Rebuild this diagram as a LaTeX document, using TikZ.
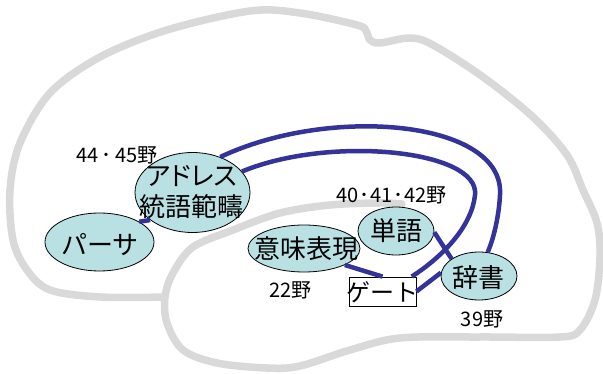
\documentclass[tikz,border=0pt]{standalone}
\usepackage{fontspec}
\setmainfont{Noto Sans CJK JP}
\newfontfamily\jpprop[RawFeature=+palt]{Noto Sans CJK JP}
\usetikzlibrary{shapes.geometric}
\definecolor{cortexgray}{RGB}{217,217,217}
\definecolor{tractblue}{RGB}{51,51,153}
\definecolor{areafill}{RGB}{185,225,228}

\begin{document}
\begin{tikzpicture}[x=1pt,y=-1pt,
  region/.style={ellipse, draw=black, line width=0.8pt, fill=areafill, inner sep=0pt},
  regiontext/.style={inner sep=0pt, font=\fontsize{26}{31}\selectfont, align=center},
  areano/.style={inner sep=0pt, font=\fontsize{20}{24}\selectfont},
  tract/.style={draw=tractblue, line width=4.5pt},
  cortex/.style={draw=cortexgray, line width=7.5pt, line cap=round, line join=round}]
\useasboundingbox (0,0) rectangle (603,374);

% brain outline with the temporal lobe
\draw[cortex] plot[smooth, tension=0.55] coordinates {
  (402,204) (380,203) (330,205) (280,213) (233,230) (193,247) (173,273)
  (165,297) (167,323) (183,350) (217,363) (267,368) (300,366) (350,350)
  (400,338) (480,337) (560,337) (580,330) (595,300) (600,257) (597,223)
  (583,190) (567,155) (533,117) (483,77) (433,45) (410,38) (380,43)
  (370,40) (366,31) (357,25) (300,13) (250,11) (167,30) (100,57)
  (50,93) (20,143) (10,190) (13,240) (27,270) (50,290) (100,297) (165,297)};

% language areas
\node[region, minimum width=115pt, minimum height=80pt] (addr) at (192.5,192.5) {};
\node[region, minimum width=109pt, minimum height=58pt] (parser) at (99.5,242) {};
\node[region, minimum width=112pt, minimum height=47pt] (meaning) at (304,248.5) {};
\node[region, minimum width=76pt, minimum height=48pt] (word) at (396,231) {};
\node[region, minimum width=76pt, minimum height=48pt] (dict) at (479,276) {};
\node[draw=black, fill=white, line width=0.8pt, minimum width=67pt, minimum height=29pt,
      inner sep=0pt] (gate) at (382.5,291.5) {};

\node[regiontext] (addrtext) at (191.5,192.5) {{\jpprop アドレス}\\統語範疇};
\node[regiontext] (parsertext) at (100,245) {パーサ};
\node[regiontext] (meaningtext) at (306,248.5) {意味表現};
\node[regiontext] (wordtext) at (396.5,231) {単語};
\node[regiontext] (dicttext) at (478,277.5) {辞書};
\node[regiontext, font=\fontsize{24}{28}\selectfont] (gatetext) at (382,292.5) {ゲート};

% Brodmann area numbers
\node[areano] (ba4445) at (117,155.5) {44\,･\,45野};
\node[areano] (ba404142) at (391.5,195.5) {40\hspace{1pt}･\hspace{1pt}41\hspace{1pt}･\hspace{1pt}42野};
\node[areano] (ba22) at (290.5,290) {22野};
\node[areano] (ba39) at (482,319) {39野};

% fibre connections
\draw[tract] (addr.52) .. controls (330,105) and (505,120) .. (500,195)
  .. controls (499,215) and (494,238) .. (dict.70);
\draw[tract] (addr.23) .. controls (330,135) and (480,150) .. (475,195)
  .. controls (472,225) and (445,255) .. (gate.27);
\draw[tract] (parser.27) -- (addr.213);
\draw[tract] (meaning.-22) -- (gate.north);
\draw[tract] (word.-2) -- (dict.148);
\draw[tract] (gate.east) -- (dict.175);
\end{tikzpicture}
\end{document}
